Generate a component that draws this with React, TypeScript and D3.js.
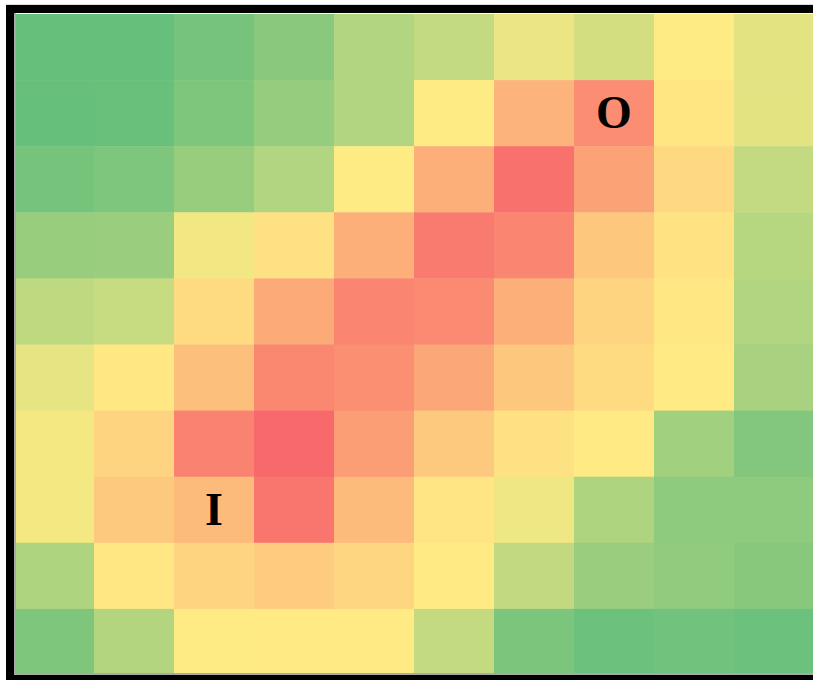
import React from "react";
import * as d3 from "d3";

// heat values per row (0 = green, 0.5 = yellow, 1 = red)
const heat: number[][] = [
  [0.01, 0.01, 0.06, 0.125, 0.25, 0.31, 0.435, 0.36, 0.5, 0.41],
  [0.01, 0.02, 0.09, 0.16, 0.25, 0.5, 0.71, 0.86, 0.52, 0.41],
  [0.06, 0.085, 0.17, 0.25, 0.5, 0.73, 0.97, 0.78, 0.57, 0.31],
  [0.17, 0.175, 0.455, 0.54, 0.73, 0.93, 0.89, 0.64, 0.535, 0.27],
  [0.295, 0.32, 0.56, 0.75, 0.89, 0.87, 0.73, 0.59, 0.515, 0.25],
  [0.42, 0.515, 0.67, 0.88, 0.855, 0.76, 0.64, 0.565, 0.505, 0.22],
  [0.465, 0.59, 0.9, 1.0, 0.8, 0.63, 0.54, 0.505, 0.2, 0.1],
  [0.465, 0.63, 0.685, 0.95, 0.685, 0.525, 0.45, 0.24, 0.14, 0.14],
  [0.245, 0.515, 0.59, 0.62, 0.58, 0.505, 0.305, 0.175, 0.145, 0.115],
  [0.09, 0.255, 0.5, 0.505, 0.505, 0.31, 0.08, 0.03, 0.045, 0.03],
];

// letters placed on cells: [row, col, text]
const markers: [number, number, string][] = [
  [1, 7, "O"],
  [7, 2, "I"],
];

const W = 813;
const H = 680;

export default function App() {
  const idx = d3.range(10);
  const x = d3.scaleBand<number>().domain(idx).range([14, 814]);
  const y = d3.scaleBand<number>().domain(idx).range([14, 675]);
  const color = d3
    .scaleLinear<string>()
    .domain([0, 0.5, 1])
    .range(["#63be7b", "#ffeb84", "#f8696b"])
    .interpolate(d3.interpolateRgb);

  return (
    <svg
      width={W}
      height={H}
      style={{ position: "absolute", left: 0, top: 0, display: "block" }}
    >
      <rect x={0} y={0} width={W} height={H} fill="#fff" />
      {heat.map((row, r) =>
        row.map((v, c) => (
          <rect
            key={`${r}-${c}`}
            x={x(c)}
            y={y(r)}
            width={x.bandwidth() + 0.5}
            height={y.bandwidth() + 0.5}
            fill={color(v)}
          />
        ))
      )}
      {markers.map(([r, c, t]) => (
        <text
          key={t}
          x={(x(c) as number) + x.bandwidth() / 2}
          y={(y(r) as number) + y.bandwidth() / 2 + 15}
          textAnchor="middle"
          fontFamily="'Liberation Serif', 'Times New Roman', serif"
          fontWeight="bold"
          fontSize={46}
          fill="#000"
        >
          {t}
        </text>
      ))}
      {/* frame */}
      <rect x={6} y={4} width={W} height={1} fill="#ddd" />
      <rect x={6} y={5} width={W} height={8} fill="#000" />
      <rect x={6} y={5} width={8} height={H} fill="#000" />
      <rect x={6} y={675} width={W} height={8} fill="#000" />
      <rect x={14} y={13} width={2} height={662} fill="#a9a9a9" />
      <rect x={14} y={673} width={W} height={2} fill="#a9a9a9" />
    </svg>
  );
}
